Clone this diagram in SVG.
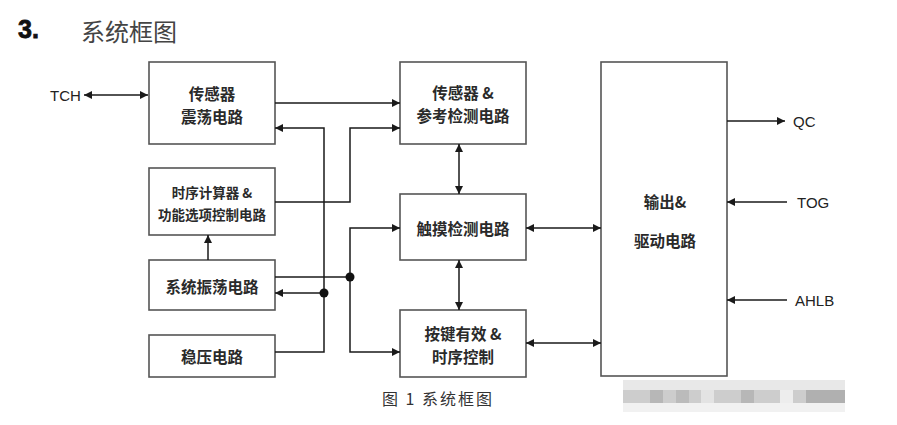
<svg xmlns="http://www.w3.org/2000/svg" width="897" height="425" viewBox="0 0 897 425">
<defs>
<marker id="ah" viewBox="0 0 10 10" refX="10" refY="5" markerWidth="9" markerHeight="8" markerUnits="userSpaceOnUse" orient="auto-start-reverse"><path d="M0,0 L10,5 L0,10 z" fill="#1a1a1a"/></marker>
<style>
.box{fill:#fff;stroke:#555;stroke-width:1.6}
.t{font-family:"Noto Sans CJK SC","Liberation Sans",sans-serif;font-size:15.5px;font-weight:bold;fill:#2a2a2a;text-anchor:middle;dominant-baseline:central}
.s{font-size:13.5px}
.lbl{font-family:"Liberation Sans",Arial,sans-serif;font-size:15px;fill:#222;dominant-baseline:central}
.c{fill:none;stroke:#1a1a1a;stroke-width:1.5}
.a1{marker-end:url(#ah)}
.a2{marker-start:url(#ah);marker-end:url(#ah)}
</style>
</defs>
<rect width="897" height="425" fill="#fff"/>
<g id="title">
<text x="18" y="38" font-family="Liberation Sans,Arial,sans-serif" font-size="25" font-weight="bold" fill="#111" stroke="#111" stroke-width="0.8">3.</text>
<text x="81" y="30" font-family="Noto Sans CJK SC,sans-serif" font-size="24" fill="#444" dominant-baseline="central">系统框图</text>
</g>
<g id="n-sensor-osc"><rect class="box" x="149" y="62" width="126" height="82"/><text class="t" x="212" y="93">传感器</text><text class="t" x="212" y="116">震荡电路</text></g>
<g id="n-timer"><rect class="box" x="149" y="168" width="126" height="67"/><text class="t s" x="212" y="192">时序计算器 &amp;</text><text class="t s" x="212" y="214">功能选项控制电路</text></g>
<g id="n-sys-osc"><rect class="box" x="149" y="260" width="126" height="50"/><text class="t" x="212" y="286">系统振荡电路</text></g>
<g id="n-reg"><rect class="box" x="149" y="335" width="126" height="42"/><text class="t" x="212" y="356">稳压电路</text></g>
<g id="n-sensor-ref"><rect class="box" x="400" y="62" width="126" height="82"/><text class="t" x="463" y="92">传感器 &amp;</text><text class="t" x="463" y="115">参考检测电路</text></g>
<g id="n-touch"><rect class="box" x="400" y="194" width="126" height="66"/><text class="t" x="463" y="228">触摸检测电路</text></g>
<g id="n-key"><rect class="box" x="400" y="310" width="126" height="67"/><text class="t" x="463" y="333">按键有效 &amp;</text><text class="t" x="463" y="356">时序控制</text></g>
<g id="n-out"><rect class="box" x="601" y="62" width="126" height="314"/><text class="t" x="665" y="201">输出&amp;</text><text class="t" x="665" y="240">驱动电路</text></g>
<g id="connectors">
<path class="c a2" d="M84,95 H148"/>
<path class="c a1" d="M275,103 H400"/>
<path class="c a1" d="M275,352 H324 V128 H275"/>
<path class="c a1" d="M324,293 H275"/>
<path class="c a1" d="M275,202 H350 V128 H400"/>
<path class="c" d="M275,277 H350"/>
<path class="c a2" d="M400,228 H350 V352 H400"/>
<path class="c a1" d="M208,260 V235"/>
<path class="c a2" d="M459,144 V194"/>
<path class="c a2" d="M459,260 V310"/>
<path class="c a2" d="M526,228 H601"/>
<path class="c a2" d="M526,343 H601"/>
<path class="c a1" d="M727,121 H785"/>
<path class="c a1" d="M787,202 H727"/>
<path class="c a1" d="M787,300 H727"/>
<circle cx="324" cy="293" r="4.5" fill="#111"/>
<circle cx="350" cy="277" r="4.5" fill="#111"/>
</g>
<g id="labels">
<text class="lbl" x="50" y="95">TCH</text>
<text class="lbl" x="793" y="121">QC</text>
<text class="lbl" x="797" y="202">TOG</text>
<text class="lbl" x="795" y="300">AHLB</text>
</g>
<g id="caption"><text x="382" y="398" font-family="Noto Sans CJK SC,sans-serif" font-size="16" fill="#333" dominant-baseline="central" letter-spacing="2">图 1 系统框图</text></g>
<g id="mosaic" opacity="0.9">
<rect x="623" y="380" width="222" height="10" fill="#e6e6e6"/>
<rect x="623" y="390" width="222" height="13" fill="#c8c8c8"/>
<rect x="623" y="403" width="222" height="9" fill="#f0f0f0"/>
<rect x="650" y="390" width="13" height="13" fill="#b0b0b0"/>
<rect x="676" y="390" width="13" height="13" fill="#b4b4b4"/>
<rect x="741" y="390" width="13" height="13" fill="#b0b0b0"/>
<rect x="806" y="390" width="39" height="13" fill="#a8a8a8"/>
<rect x="701" y="390" width="13" height="13" fill="#e0e0e0"/>
<rect x="780" y="390" width="13" height="13" fill="#ececec"/>
</g>
</svg>
